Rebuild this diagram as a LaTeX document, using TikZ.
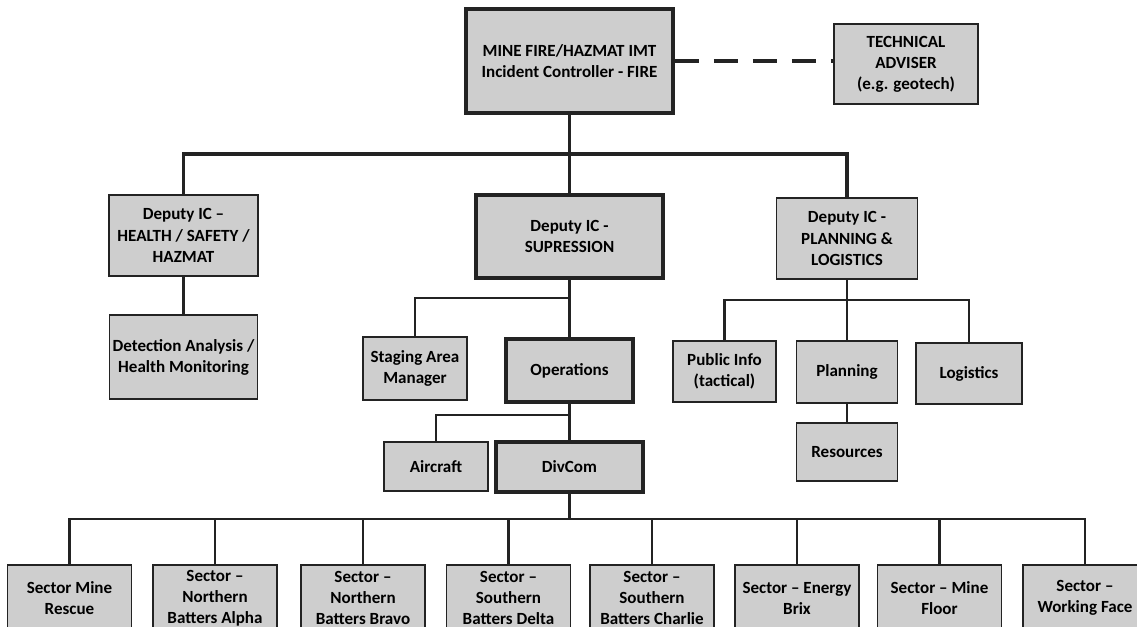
\documentclass[tikz,border=0pt]{standalone}
\usepackage{fontspec}
\setmainfont{Carlito}
\usepackage{tikz}
\usepackage{xcolor}
\definecolor{boxgrey}{RGB}{206,206,206}
\definecolor{inkgrey}{RGB}{35,35,35}

\begin{document}
\begin{tikzpicture}[every node/.style={font=\fontsize{9.7}{12}\selectfont\bfseries},
  box/.style={draw=inkgrey, line width=1.1pt, fill=boxgrey, align=center, inner sep=1pt},
  keybox/.style={box, line width=2.2pt},
  link/.style={draw=inkgrey, line width=1.2pt},
  mainlink/.style={link, line width=1.8pt}]
\clip (0,0) rectangle (22.74,-12.54);
\fill[white] (0,0) rectangle (22.74,-12.54);

% command level
\node[keybox, minimum width=4.14cm, minimum height=2.08cm] (imt) at (11.39,-1.22) {MINE FIRE/HAZMAT IMT\\Incident Controller - FIRE};
\node[box, minimum width=2.88cm, minimum height=1.60cm] (adv) at (18.12,-1.28) {TECHNICAL\\ADVISER\\(e.g. geotech)};

% deputies
\node[box, minimum width=2.98cm, minimum height=1.62cm] (hsh) at (3.67,-4.71) {Deputy IC --\\HEALTH / SAFETY /\\HAZMAT};
\node[keybox, minimum width=3.74cm, minimum height=1.66cm] (sup) at (11.39,-4.73) {Deputy IC -\\SUPRESSION};
\node[box, minimum width=2.82cm, minimum height=1.62cm] (pl) at (16.94,-4.77) {Deputy IC -\\PLANNING \&\\LOGISTICS};

% sections
\node[box, minimum width=2.96cm, minimum height=1.68cm] (det) at (3.67,-7.14) {Detection Analysis /\\Health Monitoring};
\node[box, minimum width=2.08cm, minimum height=1.26cm] (stg) at (8.30,-7.37) {Staging Area\\Manager};
\node[keybox, minimum width=2.54cm, minimum height=1.26cm] (ops) at (11.39,-7.41) {Operations};
\node[box, minimum width=2.06cm, minimum height=1.22cm] (pub) at (14.49,-7.43) {Public Info\\(tactical)};
\node[box, minimum width=2.02cm, minimum height=1.24cm] (pln) at (16.94,-7.44) {Planning};
\node[box, minimum width=2.12cm, minimum height=1.22cm] (log) at (19.38,-7.47) {Logistics};
\node[box, minimum width=2.02cm, minimum height=1.16cm] (res) at (16.94,-9.04) {Resources};
\node[box, minimum width=2.08cm, minimum height=0.98cm] (air) at (8.72,-9.33) {Aircraft};
\node[keybox, minimum width=2.94cm, minimum height=1.00cm] (div) at (11.39,-9.34) {DivCom};

% sectors
\node[box, minimum width=2.48cm, minimum height=1.32cm] (s1) at (1.39,-11.96) {Sector Mine\\Rescue};
\node[box, minimum width=2.48cm, minimum height=1.32cm] (s2) at (4.30,-11.96) {Sector --\\Northern\\Batters Alpha};
\node[box, minimum width=2.48cm, minimum height=1.32cm] (s3) at (7.26,-11.96) {Sector --\\Northern\\Batters Bravo};
\node[box, minimum width=2.48cm, minimum height=1.32cm] (s4) at (10.17,-11.96) {Sector --\\Southern\\Batters Delta};
\node[box, minimum width=2.48cm, minimum height=1.32cm] (s5) at (13.04,-11.96) {Sector --\\Southern\\Batters Charlie};
\node[box, minimum width=2.48cm, minimum height=1.32cm] (s6) at (15.94,-11.96) {Sector -- Energy\\Brix};
\node[box, minimum width=2.48cm, minimum height=1.32cm] (s7) at (18.79,-11.96) {Sector -- Mine\\Floor};
\node[box, minimum width=2.48cm, minimum height=1.32cm] (s8) at (21.70,-11.96) {Sector --\\Working Face};

% junctions
\coordinate (bus1) at (11.39,-3.08);
\coordinate (bus2) at (11.39,-5.96);
\coordinate (bus3) at (11.39,-8.30);
\coordinate (bus4) at (16.94,-6.00);
\coordinate (bus5) at (11.39,-10.38);

\draw[mainlink, dash pattern=on 0.48cm off 0.3cm] (imt.east) -- (imt.east -| adv.west);
\draw[mainlink] (imt.south) -- (sup.north);
\draw[mainlink] (hsh.north) |- (bus1) -| (pl.north);

\draw[link] (hsh.south) -- (det.north);
\draw[mainlink] (sup.south) -- (ops.north);
\draw[link] (stg.north) |- (bus2);
\draw[mainlink] (ops.south) -- (div.north);
\draw[link] (air.north) |- (bus3);
\draw[link] (pl.south) -- (pln.north);
\draw[link] (pub.north) |- (bus4) -| (log.north);
\draw[link] (pln.south) -- (res.north);

\draw[link] (div.south) -- (bus5);
\draw[link] (s1.north) |- (bus5) -| (s8.north);
\draw[link] (s2.north) -- (s2.north |- bus5);
\draw[link] (s3.north) -- (s3.north |- bus5);
\draw[link] (s4.north) -- (s4.north |- bus5);
\draw[link] (s5.north) -- (s5.north |- bus5);
\draw[link] (s6.north) -- (s6.north |- bus5);
\draw[link] (s7.north) -- (s7.north |- bus5);
\end{tikzpicture}
\end{document}
